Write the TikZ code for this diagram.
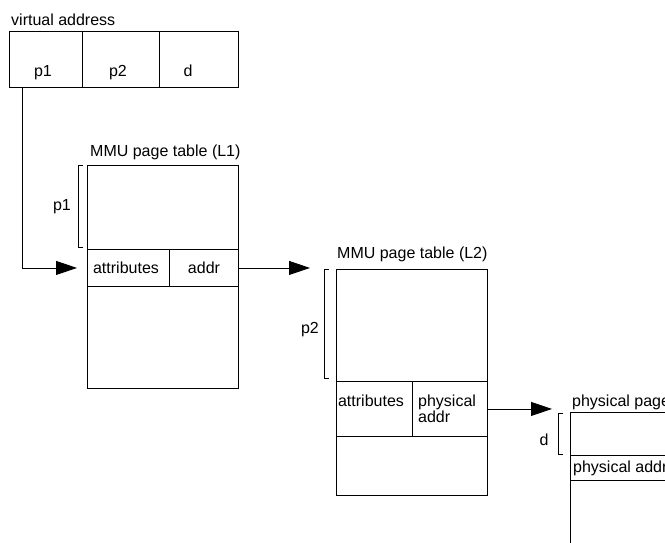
\documentclass[tikz,border=0pt]{standalone}
\usepackage{fontspec}
\setmainfont{Liberation Sans}
\usetikzlibrary{arrows.meta,calc}
\tikzset{
  cell/.style={draw, line width=0.9pt, inner sep=0pt, anchor=north west},
  txt/.style={font=\fontsize{16}{18}\selectfont, inner sep=0pt},
  arr/.style={line width=0.9pt, -{Triangle[length=21pt,width=14pt]}},
  brk/.style={line width=0.9pt},
}
\begin{document}
\begin{tikzpicture}[x=1pt,y=-1pt]
\useasboundingbox (0,0) rectangle (665,543);
\clip (0,0) rectangle (665,543);
% virtual address
\node[txt, anchor=base west] (vat) at (11,25.5) {virtual address};
\node[cell, minimum width=73pt, minimum height=56pt] (va1) at (9,31) {};
\node[cell, minimum width=77pt, minimum height=56pt] (va2) at (82,31) {};
\node[cell, minimum width=79pt, minimum height=56pt] (va3) at (159,31) {};
\node[txt, anchor=base] (tp1) at (43,77) {p1};
\node[txt, anchor=base] (tp2) at (118,77) {p2};
\node[txt, anchor=base] (td) at (188,77) {d};
% L1
\node[txt, anchor=base west] (l1t) at (90,157) {MMU page table (L1)};
\node[cell, minimum width=151pt, minimum height=223pt] (l1) at (87,165) {};
\node[cell, minimum width=82pt, minimum height=37pt] (l1attr) at (87,249) {};
\node[cell, minimum width=69pt, minimum height=37pt] (l1addr) at (169,249) {};
\node[txt, anchor=base] (tl1attr) at (126,273) {attributes};
\node[txt, anchor=base] (tl1addr) at (204,273) {addr};
\node[txt, anchor=base] (lp1) at (62,210) {p1};
\draw[brk] ($(l1.north west)+(-4,0)$) -- ++(-5,0) |- ($(l1attr.north west)+(-4,-2)$);
% L2
\node[txt, anchor=base west] (l2t) at (337,258) {MMU page table (L2)};
\node[cell, minimum width=151pt, minimum height=226pt] (l2) at (336,269) {};
\node[cell, minimum width=76pt, minimum height=55pt] (l2attr) at (336,381) {};
\node[cell, minimum width=75pt, minimum height=55pt] (l2phys) at (412,381) {};
\node[txt, anchor=base] (tl2attr) at (371,406) {attributes};
\node[txt, anchor=base west] (tl2phys) at (418,406) {physical};
\node[txt, anchor=base west] (tl2addr) at (418,422) {addr};
\node[txt, anchor=base] (lp2) at (310,333) {p2};
\draw[brk] ($(l2.north west)+(-7,0)$) -- ++(-5,0) |- ($(l2attr.north west)+(-7,-3)$);
% physical page
\node[txt, anchor=base west] (pgt) at (572,406) {physical page};
\node[cell, minimum width=200pt, minimum height=200pt] (pg) at (570,412) {};
\node[cell, minimum width=200pt, minimum height=25pt] (pgrow) at (570,455) {};
\node[txt, anchor=base west] (tpgaddr) at (573,472) {physical addr};
\node[txt, anchor=base] (ld) at (544,445) {d};
\draw[brk] ($(pg.north west)+(-7,1)$) -- ++(-5,0) |- ($(pgrow.north west)+(-7,-1)$);
% connectors
\draw[arr] ([xshift=13pt]va1.south west) |- ($(l1attr.west)+(-10,0)$);
\draw[arr] (l1addr.east) -- ($(l1addr.east -| l2.west)+(-26,0)$);
\draw[arr] (l2phys.east) -- ($(l2phys.east -| pg.west)+(-18,0)$);
\end{tikzpicture}
\end{document}
